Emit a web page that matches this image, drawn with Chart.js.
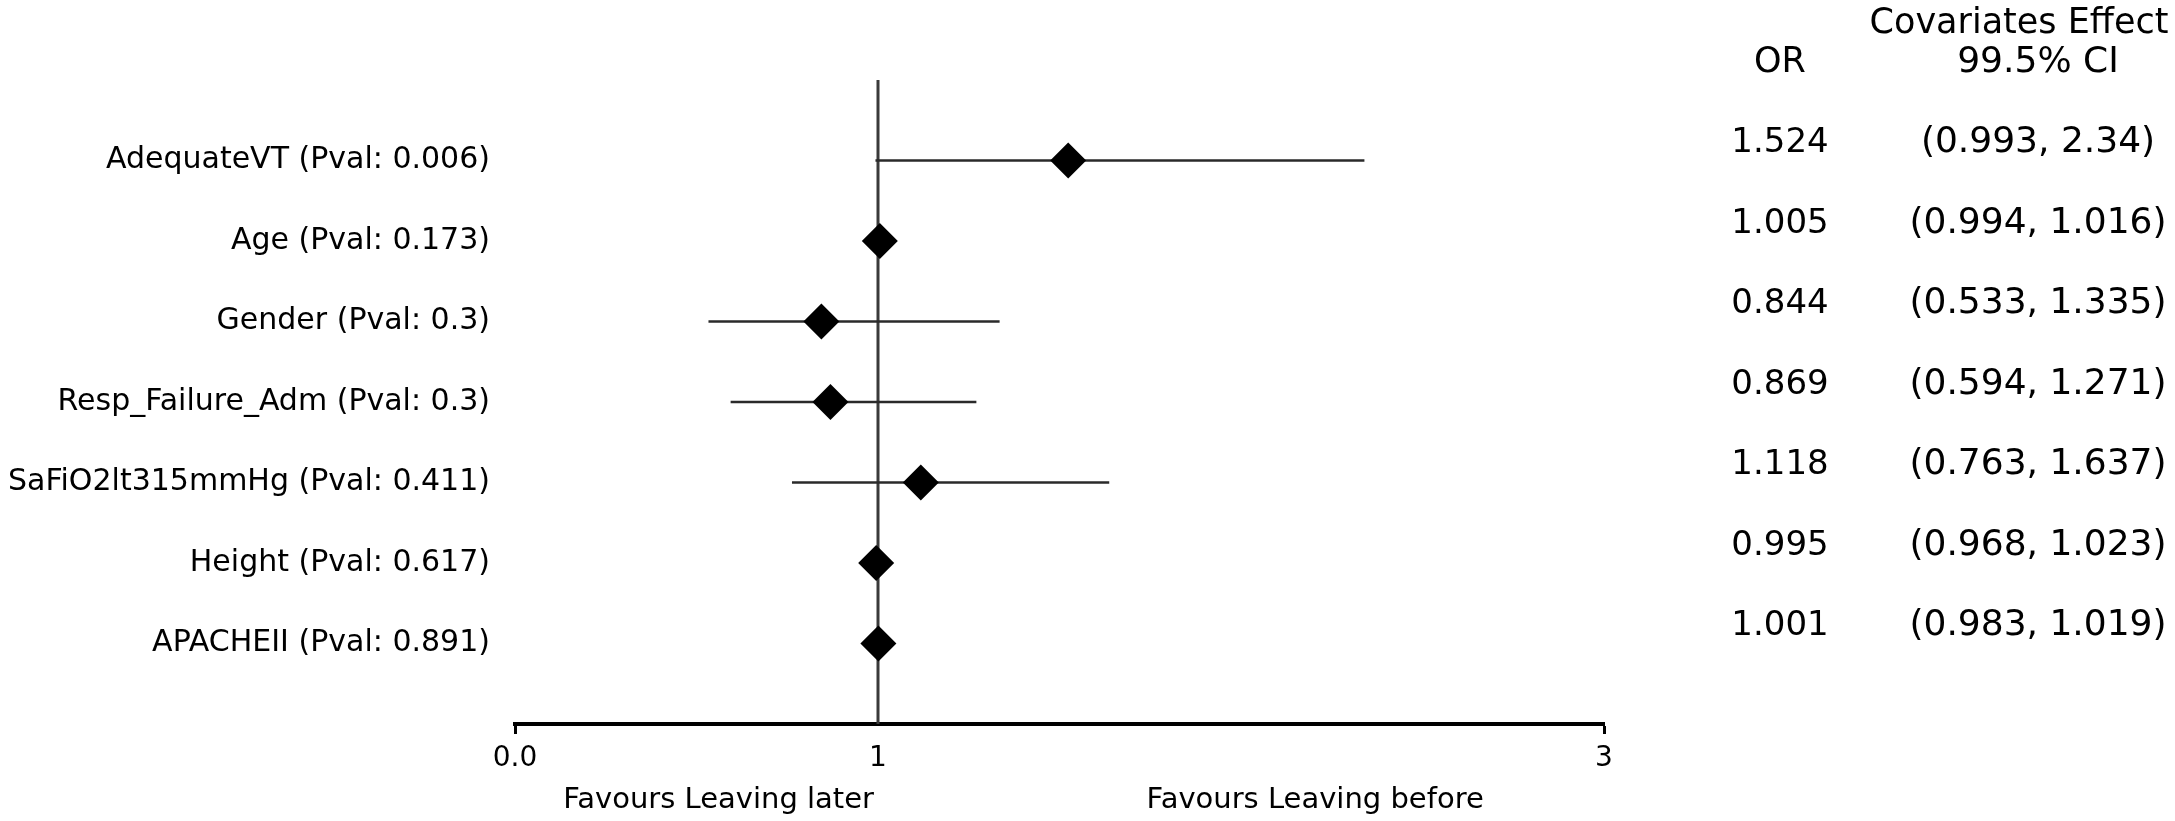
<!DOCTYPE html>
<html>
<head>
<meta charset="utf-8">
<script src="https://cdn.jsdelivr.net/npm/chart.js@4.4.1/dist/chart.umd.min.js"></script>
<style>
  html, body { margin: 0; padding: 0; background: #fff; }
  #wrap { width: 2175px; height: 821px; }
</style>
</head>
<body>
<div id="wrap"><canvas id="forest" width="2175" height="821"></canvas></div>
<script>
// Forest plot: odds ratios with 99.5% CI per covariate
const covariates = ['AdequateVT', 'Age', 'Gender', 'Resp_Failure_Adm', 'SaFiO2lt315mmHg', 'Height', 'APACHEII'];
const pvals      = ['0.006', '0.173', '0.3', '0.3', '0.411', '0.617', '0.891'];
const oddsRatio  = [1.524, 1.005, 0.844, 0.869, 1.118, 0.995, 1.001];
const ciLow      = [0.993, 0.994, 0.533, 0.594, 0.763, 0.968, 0.983];
const ciHigh     = [2.34, 1.016, 1.335, 1.271, 1.637, 1.023, 1.019];
const xTicks     = [0, 1, 3];
const xTickText  = ['0.0', '1', '3'];

const FONT = '"DejaVu Sans", Verdana, sans-serif';

// one line dataset per CI whisker
const ciSets = covariates.map((_, i) => ({
  type: 'line',
  data: [{ x: ciLow[i], y: i + 1 }, { x: ciHigh[i], y: i + 1 }],
  borderColor: '#2a2a2a',
  borderWidth: 2.5,
  pointRadius: 0,
  order: 1,
}));

// right-hand table + "favours" captions
const tablePlugin = {
  id: 'tablePlugin',
  afterDraw(chart) {
    const { ctx } = chart;
    const x = chart.scales.x;
    const y = chart.scales.y;
    const orX = 1780;
    const ciX = 2038;
    ctx.save();
    ctx.fillStyle = '#000';
    ctx.textBaseline = 'alphabetic';
    ctx.textAlign = 'center';
    ctx.font = '35px ' + FONT;
    ctx.fillText('Covariates Effect', 2019, y.getPixelForValue(-0.75) + 13);
    ctx.fillText('OR', orX, y.getPixelForValue(-0.25) + 12);
    ctx.font = '36px ' + FONT;
    ctx.fillText('99.5% CI', ciX, y.getPixelForValue(-0.25) + 12);
    oddsRatio.forEach((v, i) => {
      const py = y.getPixelForValue(i + 0.75) + 12;
      ctx.font = '34px ' + FONT;
      ctx.fillText(String(v), orX, py);
      ctx.font = '36px ' + FONT;
      ctx.fillText('(' + ciLow[i] + ', ' + ciHigh[i] + ')', ciX, py);
    });

    ctx.font = '29px ' + FONT;
    const capY = x.bottom - 13;
    ctx.textAlign = 'right';
    ctx.fillText('Favours Leaving later', x.getPixelForValue(1) - 4, capY);
    ctx.textAlign = 'left';
    ctx.fillText('Favours Leaving before', x.getPixelForValue(1.74), capY);
    ctx.restore();
  },
};

new Chart(document.getElementById('forest'), {
  type: 'scatter',
  data: {
    datasets: [
      {
        // point estimates
        data: oddsRatio.map((v, i) => ({ x: v, y: i + 1 })),
        pointStyle: 'rectRot',
        pointRadius: 18,
        pointHoverRadius: 18,
        backgroundColor: '#000',
        borderColor: '#000',
        borderWidth: 0,
        showLine: false,
        order: 0,
      },
      ...ciSets,
      {
        // line of no effect at OR = 1
        type: 'line',
        data: [{ x: 1, y: 0 }, { x: 1, y: 8 }],
        borderColor: '#3a3a3a',
        borderWidth: 3,
        pointRadius: 0,
        order: 2,
      },
    ],
  },
  options: {
    responsive: false,
    animation: false,
    events: [],
    layout: { padding: { top: 80, right: 571, left: 0, bottom: 0 } },
    plugins: {
      legend: { display: false },
      tooltip: { enabled: false },
    },
    scales: {
      x: {
        type: 'linear',
        min: 0,
        max: 3,
        afterBuildTicks: s => { s.ticks = xTicks.map(v => ({ value: v })); },
        afterFit: s => { s.height = 97; },
        ticks: {
          callback: v => xTickText[xTicks.indexOf(v)],
          font: { family: FONT, size: 28 },
          color: '#000',
          padding: 8,
          maxRotation: 0,
          autoSkip: false,
        },
        grid: {
          drawOnChartArea: false,
          tickLength: 10,
          tickWidth: 3,
          tickColor: c => (c.tick && c.tick.value === 1 ? 'rgba(0,0,0,0)' : '#000'),
        },
        border: { color: '#000', width: 4 },
      },
      y: {
        type: 'linear',
        min: 0,
        max: 8,
        reverse: true,
        afterBuildTicks: s => { s.ticks = covariates.map((_, i) => ({ value: i + 1 })); },
        afterFit: s => { s.width = 515; },
        ticks: {
          callback: v => covariates[v - 1] + ' (Pval: ' + pvals[v - 1] + ')',
          font: { family: FONT, size: 30 },
          color: '#000',
          padding: 25,
          autoSkip: false,
        },
        grid: { display: false, drawTicks: false },
        border: { display: false },
      },
    },
  },
  plugins: [tablePlugin],
});
</script>
</body>
</html>
